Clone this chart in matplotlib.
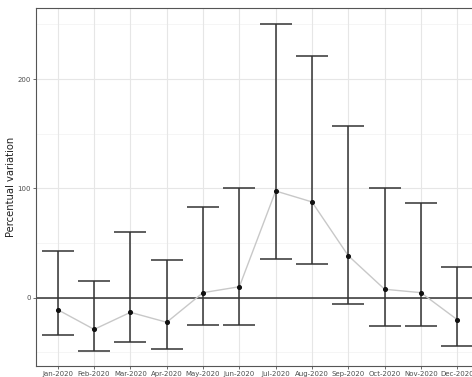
import matplotlib.pyplot as plt
import numpy as np

months = ['Jan-2020', 'Feb-2020', 'Mar-2020', 'Apr-2020', 'May-2020', 'Jun-2020',
          'Jul-2020', 'Aug-2020', 'Sep-2020', 'Oct-2020', 'Nov-2020', 'Dec-2020']
mean = [-11, -29, -13.4, -22.5, 4.6, 10, 97.6, 87.6, 38.4, 7.7, 4.6, -20.1]
upper = [43, 15.3, 59.8, 34.8, 83.3, 100, 250.4, 220.9, 157, 100, 86.6, 27.8]
lower = [-34.4, -49, -40.5, -47, -25.3, -25, 35.1, 30.5, -5.5, -25.9, -25.6, -43.9]

x = np.arange(1, len(months) + 1)
mean = np.array(mean)
yerr = [mean - np.array(lower), np.array(upper) - mean]

fig = plt.figure(figsize=(4.72, 3.77), dpi=100)
ax = fig.add_axes([36 / 472, 11 / 377, 443 / 472, 358 / 377])

# grid like theme_bw
for y in [-50, 50, 150, 250]:
    ax.axhline(y, color='#f2f2f2', lw=0.5, zorder=0)
for y in [0, 100, 200]:
    ax.axhline(y, color='#e6e6e6', lw=0.8, zorder=0)
for xi in x:
    ax.axvline(xi, color='#e6e6e6', lw=0.8, zorder=0)

ax.axhline(0, color='#333333', lw=1.1, zorder=1)
ax.plot(x, mean, color='#c8c8c8', lw=1.0, zorder=2)
ax.errorbar(x, mean, yerr=yerr, fmt='none', ecolor='#333333', elinewidth=1.1,
            capsize=11.5, capthick=1.1, zorder=3)
ax.scatter(x, mean, s=7, color='#111111', zorder=4)

ax.set_xlim(0.4, 12.6)
ax.set_ylim(-62.5, 265)
ax.set_xticks(x)
ax.set_xticklabels(months, fontsize=5, color='#4d4d4d')
ax.set_yticks([0, 100, 200])
ax.set_yticklabels(['0', '100', '200'], fontsize=5, color='#4d4d4d')
ax.tick_params(length=2, width=0.5, color='#333333', pad=1.5)
ax.set_ylabel('Percentual variation', fontsize=7.2, color='#222222')
ax.yaxis.set_label_coords(-0.045, 0.5)
for s in ax.spines.values():
    s.set_color('#555555')
    s.set_linewidth(0.8)

fig.savefig('out.png', dpi=100)
